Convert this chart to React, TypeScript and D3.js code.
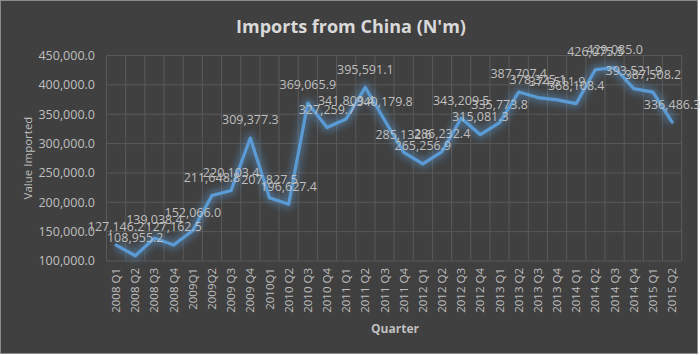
import React from "react";
import * as d3 from "d3";

const quarters = [
  "2008 Q1", "2008 Q2", "2008 Q3", "2008 Q4",
  "2009Q1", "2009Q2", "2009 Q3", "2009 Q4",
  "2010Q1", "2010 Q2", "2010 Q3", "2010 Q4",
  "2011 Q1", "2011 Q2", "2011 Q3", "2011 Q4",
  "2012 Q1", "2012 Q2", "2012 Q3", "2012 Q4",
  "2013 Q1", "2013 Q2", "2013 Q3", "2013 Q4",
  "2014 Q1", "2014 Q2", "2014 Q3", "2014 Q4",
  "2015 Q1", "2015 Q2",
];

const imports = [
  127146.2, 108955.2, 139038.4, 127162.5,
  152066.0, 211648.8, 220103.4, 309377.3,
  207827.5, 196627.4, 369065.9, 327259.7,
  341809.4, 395591.1, 340179.8, 285132.6,
  265256.9, 286232.4, 343209.5, 315081.3,
  335773.8, 387707.4, 378325.1, 374511.9,
  368108.4, 426075.5, 429085.0, 393521.9,
  387508.2, 336486.3,
];

const yTicks = [100000, 150000, 200000, 250000, 300000, 350000, 400000, 450000];

const W = 700;
const H = 355;
const FONT = "'Open Sans', 'DejaVu Sans', sans-serif";

export default function App() {
  const x = d3.scaleBand<string>().domain(quarters).range([106.5, 681.7]).paddingInner(0).paddingOuter(0);
  const y = d3.scaleLinear().domain([100000, 450000]).range([261, 55.5]);
  const fmt = d3.format(",.1f");
  const cx = (q: string) => (x(q) as number) + x.bandwidth() / 2;

  const line = d3
    .line<number>()
    .x((_, i) => cx(quarters[i]))
    .y((d) => y(d));
  const path = line(imports) || "";

  const [x0, x1] = x.range();
  const [yb, yt] = y.range();

  return (
    <svg
      width={W}
      height={H}
      style={{ position: "absolute", left: 0, top: 0, display: "block" }}
      fontFamily={FONT}
    >
      <defs>
        <filter id="glow" x="-10%" y="-20%" width="120%" height="140%">
          <feGaussianBlur stdDeviation="3.5" />
        </filter>
      </defs>
      <rect x={0} y={0} width={W} height={H} fill="#ffffff" />
      <rect x={0.5} y={0.5} width={697} height={353} fill="#404040" stroke="#8c8c8c" strokeWidth={1} />

      {/* horizontal gridlines */}
      {yTicks.map((t) => (
        <line key={"h" + t} x1={x0} x2={x1} y1={y(t)} y2={y(t)} stroke="#595959" strokeWidth={1} />
      ))}
      {/* vertical gridlines at category boundaries */}
      {quarters.map((q) => (
        <line key={"v" + q} x1={x(q) as number} x2={x(q) as number} y1={yt} y2={yb} stroke="#595959" strokeWidth={1} />
      ))}
      <line x1={x1} x2={x1} y1={yt} y2={yb} stroke="#595959" strokeWidth={1} />

      {/* y tick labels */}
      {yTicks.map((t) => (
        <text key={"yl" + t} x={95} y={y(t)} dy="0.35em" textAnchor="end" fontSize={12.5} fill="#bfbfbf">
          {fmt(t)}
        </text>
      ))}

      {/* x tick labels */}
      {quarters.map((q) => (
        <text
          key={"xl" + q}
          transform={`translate(${cx(q)},268) rotate(-90)`}
          textAnchor="end"
          dy="0.35em"
          fontSize={11.5}
          fill="#bfbfbf"
        >
          {q}
        </text>
      ))}

      {/* line with glow */}
      <path d={path} fill="none" stroke="#5b9bd5" strokeOpacity={0.45} strokeWidth={9} strokeLinejoin="round" filter="url(#glow)" />
      <path d={path} fill="none" stroke="#5b9bd5" strokeWidth={3.2} strokeLinejoin="round" strokeLinecap="round" />

      {/* data labels */}
      {imports.map((v, i) => (
        <text
          key={"dl" + i}
          x={cx(quarters[i])}
          y={y(v) - 18}
          dy="0.35em"
          textAnchor="middle"
          fontSize={12.5}
          fill="#bfbfbf"
        >
          {fmt(v)}
        </text>
      ))}

      {/* titles */}
      <text x={351} y={27} dy="0.35em" textAnchor="middle" fontSize={18} fontWeight="bold" fill="#d9d9d9">
        Imports from China (N'm)
      </text>
      <text transform="translate(28,158) rotate(-90)" textAnchor="middle" dy="0.35em" fontSize={11.5} fill="#bfbfbf">
        Value Imported
      </text>
      <text x={395} y={329} dy="0.35em" textAnchor="middle" fontSize={12} fontWeight="bold" fill="#bfbfbf">
        Quarter
      </text>
    </svg>
  );
}
